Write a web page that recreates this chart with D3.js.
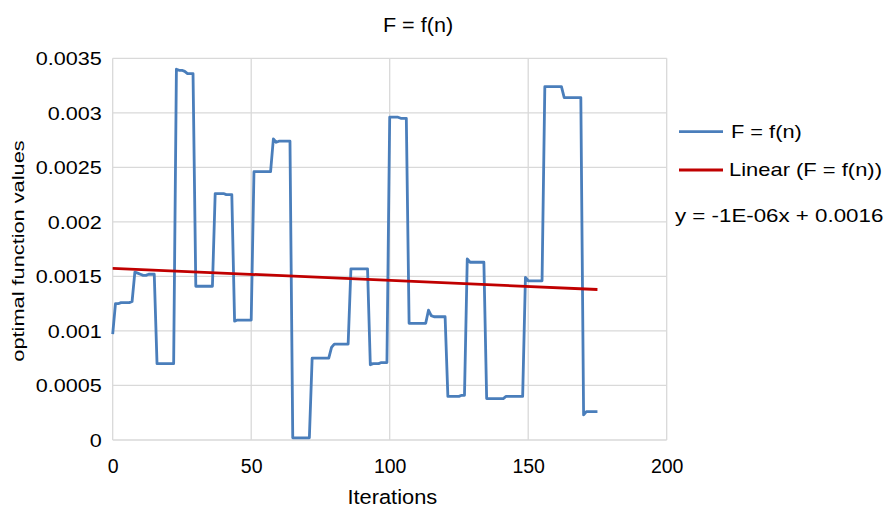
<!DOCTYPE html>
<html>
<head>
<meta charset="utf-8">
<script src="https://cdn.jsdelivr.net/npm/d3@7"></script>
<style>
  html, body { margin: 0; padding: 0; background: #fff; }
  svg { display: block; font-family: "Liberation Sans", Arial, sans-serif; }
</style>
</head>
<body>
<svg id="chart" width="885" height="507"></svg>
<script>
// ---- data ----
const iterations = d3.range(0, 176);
const values = [
  0.00097, 0.00125, 0.00125, 0.00126, 0.00126, 0.00126, 0.00126, 0.00127, 0.00154, 0.00153,
  0.00152, 0.00151, 0.00151, 0.00152, 0.00152, 0.00152, 0.00070, 0.00070, 0.00070, 0.00070,
  0.00070, 0.00070, 0.00070, 0.00340, 0.00339, 0.00339, 0.00338, 0.00336, 0.00336, 0.00336,
  0.00141, 0.00141, 0.00141, 0.00141, 0.00141, 0.00141, 0.00141, 0.00226, 0.00226, 0.00226,
  0.00226, 0.00225, 0.00225, 0.00225, 0.00109, 0.00110, 0.00110, 0.00110, 0.00110, 0.00110,
  0.00110, 0.00246, 0.00246, 0.00246, 0.00246, 0.00246, 0.00246, 0.00246, 0.00276, 0.00273,
  0.00274, 0.00274, 0.00274, 0.00274, 0.00274, 0.00002, 0.00002, 0.00002, 0.00002, 0.00002,
  0.00002, 0.00002, 0.00075, 0.00075, 0.00075, 0.00075, 0.00075, 0.00075, 0.00075, 0.00085,
  0.00088, 0.00088, 0.00088, 0.00088, 0.00088, 0.00088, 0.00157, 0.00157, 0.00157, 0.00157,
  0.00157, 0.00157, 0.00157, 0.00069, 0.00070, 0.00070, 0.00070, 0.00071, 0.00071, 0.00071,
  0.00296, 0.00296, 0.00296, 0.00296, 0.00295, 0.00295, 0.00295, 0.00107, 0.00107, 0.00107,
  0.00107, 0.00107, 0.00107, 0.00107, 0.00119, 0.00114, 0.00113, 0.00113, 0.00113, 0.00113,
  0.00113, 0.00040, 0.00040, 0.00040, 0.00040, 0.00040, 0.00041, 0.00041, 0.00166, 0.00163,
  0.00163, 0.00163, 0.00163, 0.00163, 0.00163, 0.00038, 0.00038, 0.00038, 0.00038, 0.00038,
  0.00038, 0.00038, 0.00040, 0.00040, 0.00040, 0.00040, 0.00040, 0.00040, 0.00040, 0.00149,
  0.00146, 0.00146, 0.00146, 0.00146, 0.00146, 0.00146, 0.00324, 0.00324, 0.00324, 0.00324,
  0.00324, 0.00324, 0.00324, 0.00314, 0.00314, 0.00314, 0.00314, 0.00314, 0.00314, 0.00314,
  0.00023, 0.00026, 0.00026, 0.00026, 0.00026, 0.00026
];
const xTicks = [0, 50, 100, 150, 200];
const yTicks = [0, 0.0005, 0.001, 0.0015, 0.002, 0.0025, 0.003, 0.0035];
const yTickLabels = ["0", "0.0005", "0.001", "0.0015", "0.002", "0.0025", "0.003", "0.0035"];
const titleText = "F = f(n)";
const xTitle = "Iterations";
const yTitle = "optimal function values";
const seriesName = "F = f(n)";
const trendName = "Linear (F = f(n))";
const equationText = "y = -1E-06x + 0.0016";

// ---- layout ----
const svg = d3.select("#chart");
const x = d3.scaleLinear().domain([0, 200]).range([112.7, 666.7]);
const y = d3.scaleLinear().domain([0, 0.0035]).range([440, 58.3]);
const blue = "#4a7ebb", red = "#c00000", grid = "#d9d9d9", ink = "#000";

function label(px, py, s, size, sx, anchor, rot) {
  const g = svg.append("g")
    .attr("transform", `translate(${px},${py})` + (rot ? ` rotate(${rot})` : "") + ` scale(${sx},1)`);
  g.append("text").attr("x", 0).attr("y", 0)
    .attr("text-anchor", anchor).attr("font-size", size).attr("fill", ink).text(s);
  return g;
}

// grid
svg.append("g").selectAll("line.h").data(yTicks).join("line")
  .attr("x1", x(0)).attr("x2", x(200)).attr("y1", d => y(d)).attr("y2", d => y(d))
  .attr("stroke", grid).attr("stroke-width", 1.3);
svg.append("g").selectAll("line.v").data(xTicks).join("line")
  .attr("y1", y(0)).attr("y2", y(0.0035)).attr("x1", d => x(d)).attr("x2", d => x(d))
  .attr("stroke", grid).attr("stroke-width", 1.3);

// axes
const xAxis = svg.append("g").attr("transform", `translate(0,${y(0)})`)
  .call(d3.axisBottom(x).tickValues(xTicks).tickSize(0).tickFormat(d3.format("d")));
xAxis.select(".domain").remove();
xAxis.selectAll("text").attr("y", 32.7).attr("dy", 0)
  .attr("font-size", 19.5).attr("font-family", "Liberation Sans, Arial, sans-serif").attr("fill", ink);

const yAxis = svg.append("g").attr("transform", `translate(${x(0)},0)`)
  .call(d3.axisLeft(y).tickValues(yTicks).tickSize(0).tickFormat((d, i) => yTickLabels[i]));
yAxis.select(".domain").remove();
const ysx = 1.2;
yAxis.selectAll("text").attr("x", -11 / ysx).attr("dy", "0.36em")
  .attr("transform", `scale(${ysx},1)`)
  .attr("font-size", 18).attr("font-family", "Liberation Sans, Arial, sans-serif").attr("fill", ink);

// series line
const line = d3.line().x((d, i) => x(iterations[i])).y(d => y(d));
svg.append("path").datum(values).attr("d", line)
  .attr("fill", "none").attr("stroke", blue).attr("stroke-width", 2.8)
  .attr("stroke-linejoin", "round");

// linear trend (least squares)
const mx = d3.mean(iterations), my = d3.mean(values);
let sxy = 0, sxx = 0;
iterations.forEach((t, i) => { sxy += (t - mx) * (values[i] - my); sxx += (t - mx) * (t - mx); });
const slope = sxy / sxx, intercept = my - slope * mx;
const tEnds = [iterations[0], iterations[iterations.length - 1]];
svg.append("line")
  .attr("x1", x(tEnds[0])).attr("y1", y(intercept + slope * tEnds[0]))
  .attr("x2", x(tEnds[1])).attr("y2", y(intercept + slope * tEnds[1]))
  .attr("stroke", red).attr("stroke-width", 2.8);

// titles
label(418, 31.7, titleText, 20, 1.08, "middle");
label(392.3, 503.5, xTitle, 19.5, 1.12, "middle");
label(24, 251, yTitle, 17, 1.28, "middle", -90);

// legend
svg.append("line").attr("x1", 679).attr("x2", 723).attr("y1", 131.7).attr("y2", 131.7)
  .attr("stroke", blue).attr("stroke-width", 2.8);
label(731, 137.7, seriesName, 17.7, 1.23, "start");
svg.append("line").attr("x1", 679).attr("x2", 723).attr("y1", 170).attr("y2", 170)
  .attr("stroke", red).attr("stroke-width", 2.8);
label(729, 176, trendName, 17.7, 1.24, "start");
label(675, 221.7, equationText, 18.6, 1.2, "start");
</script>
</body>
</html>
